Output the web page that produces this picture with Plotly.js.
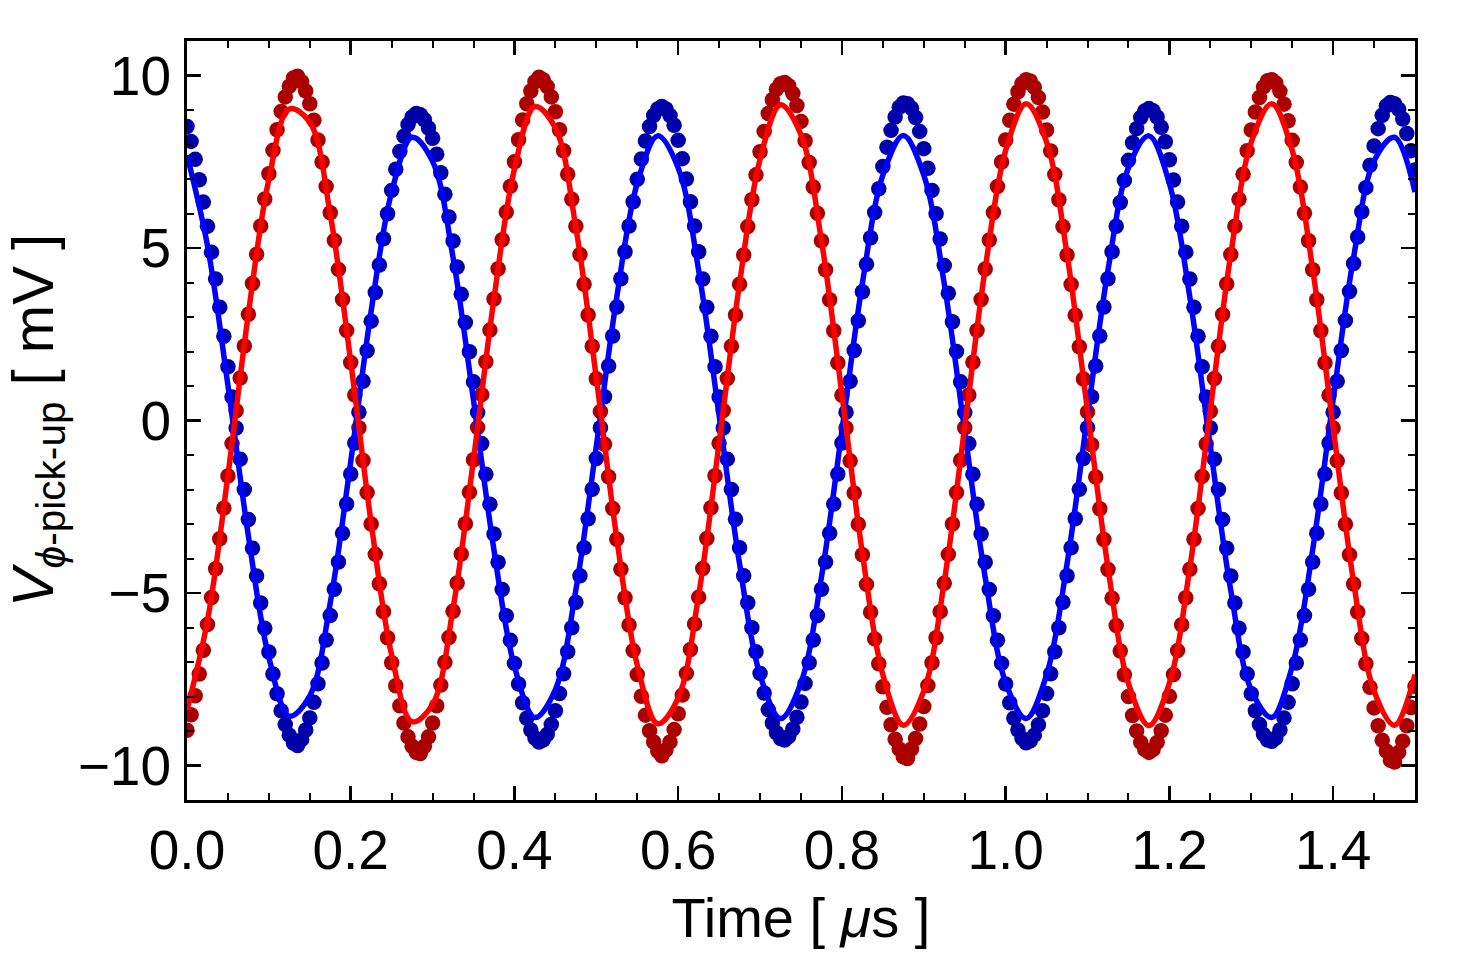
<!DOCTYPE html>
<html>
<head>
<meta charset="utf-8">
<script src="https://cdn.plot.ly/plotly-3.0.1.min.js"></script>
<style>html,body{margin:0;padding:0;background:#fff;}#chart{width:1459px;height:969px;}</style>
</head>
<body>
<div id="chart"></div>
<script>
// Sampled data (mV), one point every 0.005 µs from t = 0 to 1.5 µs
var sampleStart = 0;
var sampleStep = 0.005;
var redData = [
-8.98,-8.53,-7.98,-7.35,-6.66,-5.91,-5.13,-4.30,-3.43,-2.54,
-1.61,-0.67,0.28,1.23,2.16,3.08,3.97,4.82,5.64,6.42,
7.15,7.83,8.43,8.96,9.38,9.69,9.93,9.98,9.82,9.55,
9.18,8.70,8.13,7.49,6.78,6.02,5.22,4.38,3.51,2.61,
1.68,0.74,-0.21,-1.16,-2.09,-3.00,-3.88,-4.73,-5.54,-6.30,
-7.02,-7.69,-8.27,-8.77,-9.17,-9.44,-9.62,-9.65,-9.44,-9.17,
-8.77,-8.27,-7.67,-7.01,-6.29,-5.53,-4.71,-3.87,-2.99,-2.08,
-1.14,-0.20,0.75,1.70,2.62,3.52,4.40,5.24,6.04,6.79,
7.50,8.14,8.71,9.18,9.55,9.82,9.95,9.88,9.68,9.38,
8.95,8.43,7.82,7.14,6.41,5.63,4.81,3.95,3.06,2.15,
1.21,0.26,-0.69,-1.63,-2.55,-3.44,-4.31,-5.14,-5.93,-6.67,
-7.36,-7.99,-8.54,-8.99,-9.32,-9.58,-9.72,-9.55,-9.32,
-8.96,-8.50,-7.96,-7.33,-6.64,-5.90,-5.12,-4.29,-3.42,-2.53,
-1.60,-0.66,0.29,1.22,2.15,3.06,3.95,4.80,5.62,6.40,
7.12,7.79,8.38,8.90,9.30,9.60,9.76,9.80,9.70,9.48,
9.13,8.67,8.11,7.48,6.77,6.01,5.21,4.37,3.50,2.60,
1.67,0.73,-0.22,-1.17,-2.10,-3.01,-3.89,-4.75,-5.56,-6.33,
-7.05,-7.72,-8.31,-8.82,-9.24,-9.52,-9.75,-9.80,-9.52,-9.22,
-8.80,-8.29,-7.68,-7.02,-6.30,-5.54,-4.72,-3.88,-3.00,-2.09,
-1.15,-0.21,0.74,1.69,2.61,3.51,4.39,5.23,6.03,6.78,
7.49,8.13,8.70,9.17,9.53,9.77,9.88,9.84,9.66,9.36,
8.94,8.42,7.81,7.13,6.40,5.62,4.80,3.94,3.05,2.14,
1.20,0.25,-0.70,-1.64,-2.56,-3.45,-4.32,-5.15,-5.94,-6.68,
-7.37,-8.00,-8.55,-9.00,-9.33,-9.54,-9.62,-9.54,-9.33,
-8.99,-8.54,-7.99,-7.36,-6.67,-5.92,-5.14,-4.31,-3.44,-2.55,
-1.62,-0.68,0.27,1.22,2.15,3.07,3.96,4.81,5.63,6.41,
7.14,7.82,8.42,8.94,9.36,9.67,9.85,9.88,9.78,9.54,
9.17,8.69,8.12,7.48,6.77,6.01,5.21,4.37,3.50,2.60,
1.67,0.73,-0.22,-1.17,-2.10,-3.01,-3.89,-4.74,-5.55,-6.32,
-7.05,-7.73,-8.33,-8.85,-9.27,-9.58,-9.85,-9.90,-9.62,-9.30,
-8.85,-8.32,-7.70
];
var blueData = [
8.52,8.09,7.57,6.98,6.33,5.63,4.88,4.10,3.28,2.44,
1.56,0.68,-0.22,-1.12,-2.00,-2.87,-3.70,-4.51,-5.29,-6.02,
-6.71,-7.35,-7.92,-8.41,-8.81,-9.12,-9.35,-9.42,-9.25,-8.97,
-8.62,-8.17,-7.63,-7.03,-6.36,-5.65,-4.89,-4.10,-3.27,-2.42,
-1.55,-0.65,0.24,1.14,2.02,2.88,3.71,4.51,5.27,5.99,
6.67,7.28,7.80,8.24,8.58,8.80,8.90,8.86,8.72,8.48,
8.18,7.72,7.18,6.56,5.90,5.20,4.45,3.66,2.84,1.99,
1.12,0.23,-0.67,-1.56,-2.43,-3.29,-4.11,-4.90,-5.66,-6.37,
-7.04,-7.64,-8.18,-8.63,-8.97,-9.20,-9.32,-9.26,-9.10,-8.81,
-8.41,-7.91,-7.34,-6.70,-6.01,-5.27,-4.50,-3.69,-2.85,-1.99,
-1.10,-0.21,0.69,1.58,2.45,3.29,4.11,4.89,5.64,6.34,
6.99,7.58,8.10,8.52,8.84,9.03,9.10,9.03,8.84,
8.56,8.12,7.59,7.00,6.34,5.64,4.89,4.10,3.28,2.44,
1.56,0.68,-0.22,-1.12,-2.00,-2.86,-3.69,-4.50,-5.28,-6.01,
-6.70,-7.33,-7.90,-8.38,-8.77,-9.05,-9.22,-9.26,-9.16,-8.94,
-8.60,-8.16,-7.62,-7.02,-6.36,-5.65,-4.89,-4.10,-3.27,-2.42,
-1.55,-0.65,0.24,1.14,2.03,2.89,3.73,4.53,5.30,6.03,
6.72,7.36,7.92,8.41,8.80,9.08,9.20,9.18,9.05,8.78,
8.38,7.88,7.31,6.67,5.99,5.26,4.49,3.69,2.86,2.00,
1.12,0.23,-0.67,-1.56,-2.43,-3.29,-4.11,-4.90,-5.66,-6.37,
-7.04,-7.64,-8.18,-8.63,-8.97,-9.22,-9.34,-9.28,-9.12,-8.82,
-8.41,-7.91,-7.34,-6.70,-6.01,-5.27,-4.50,-3.69,-2.85,-1.99,
-1.10,-0.21,0.69,1.58,2.45,3.29,4.11,4.89,5.63,6.32,
6.96,7.54,8.05,8.46,8.78,8.97,9.04,8.98,8.80,
8.50,8.08,7.56,6.97,6.33,5.63,4.88,4.10,3.28,2.44,
1.56,0.68,-0.22,-1.12,-2.00,-2.87,-3.70,-4.51,-5.29,-6.02,
-6.71,-7.35,-7.92,-8.41,-8.81,-9.10,-9.26,-9.30,-9.20,-8.97,
-8.62,-8.17,-7.63,-7.03,-6.36,-5.65,-4.89,-4.10,-3.27,-2.42,
-1.55,-0.65,0.24,1.14,2.03,2.90,3.74,4.55,5.32,6.05,
6.75,7.40,7.96,8.46,8.85,9.12,9.22,9.18,9.02,8.74,
8.32,7.82,7.26
];
// Fitted curves (mV), read every 0.025 µs from t = 0 to 1.5 µs
var fitStart = 0;
var fitStep = 0.025;
var redFit = [
-8.39,-5.80,-1.59,3.10,6.99,9.03,8.65,5.97,1.70,-2.98,-6.80,-8.73,
-8.23,-5.44,-1.12,3.54,7.29,9.10,8.48,5.59,1.23,-3.42,-7.09,-8.79,
-8.04,-5.06,-0.65,3.98,7.57,9.15,8.28,5.21,0.76,-3.85,-7.37,-8.83,
-7.84,-4.67,-0.18,4.40,7.83,9.18,8.07,4.81,0.28,-4.27,-7.62,-8.84,
-7.61,-4.26,0.30,4.82,8.07,9.18,7.83,4.39,-0.19,-4.68,-7.84,-8.83,
-7.36
];
var blueFit = [
7.69,5.07,1.02,-3.35,-6.87,-8.57,-7.98,-5.28,-1.19,3.18,6.62,8.21,
7.51,4.72,0.58,-3.76,-7.13,-8.61,-7.80,-4.91,-0.74,3.58,6.88,8.25,
7.32,4.35,0.14,-4.16,-7.38,-8.64,-7.60,-4.54,-0.30,3.98,7.11,8.26,
7.11,3.96,-0.31,-4.55,-7.60,-8.64,-7.37,-4.15,0.15,4.36,7.33,8.25,
6.87,3.57,-0.76,-4.93,-7.81,-8.61,-7.13,-3.75,0.60,4.73,7.52,8.21,
6.62
];
var xTickStep = 0.2, yTickStep = 5;

var font = 'Liberation Sans, Arial, Helvetica, sans-serif';
var traces = [
  {type:'scatter', mode:'markers', x0:sampleStart, dx:sampleStep, y:blueData,
   marker:{color:'#0000aa', size:15.5, line:{width:0}}, showlegend:false, hoverinfo:'skip'},
  {type:'scatter', mode:'markers', x0:sampleStart, dx:sampleStep, y:redData,
   marker:{color:'#aa0000', size:15.5, line:{width:0}}, showlegend:false, hoverinfo:'skip'},
  {type:'scatter', mode:'lines', x0:fitStart, dx:fitStep, y:blueFit,
   line:{color:'#0000ff', width:5.5, shape:'spline', smoothing:1}, showlegend:false, hoverinfo:'skip'},
  {type:'scatter', mode:'lines', x0:fitStart, dx:fitStep, y:redFit,
   line:{color:'#ff0000', width:5.5, shape:'spline', smoothing:1}, showlegend:false, hoverinfo:'skip'}
];
var axisCommon = {
  showline:true, linecolor:'#000', linewidth:3, mirror:'ticks',
  ticks:'inside', tickcolor:'#000', tickwidth:2.5, ticklen:14,
  showgrid:false, zeroline:false,
  tickfont:{family:font, size:55, color:'#000'}
};
var layout = {
  width:1459, height:969,
  margin:{l:187, r:44, t:41, b:169, pad:0},
  paper_bgcolor:'#fff', plot_bgcolor:'#fff',
  showlegend:false,
  xaxis:Object.assign({}, axisCommon, {
    range:[0,1.5], tick0:0, dtick:xTickStep, tickformat:'.1f',
    ticklabelstandoff:0,
    minor:{dtick:0.05, ticks:'inside', ticklen:7, tickwidth:2, tickcolor:'#000', showgrid:false},
    title:{text:'Time [ <i>μ</i>s ]', font:{family:font, size:56, color:'#000'}, standoff:18}
  }),
  yaxis:Object.assign({}, axisCommon, {
    range:[-11,11], tick0:0, dtick:yTickStep,
    ticklabelstandoff:2,
    minor:{dtick:1, ticks:'inside', ticklen:7, tickwidth:2, tickcolor:'#000', showgrid:false},
    title:{text:'<i>V</i><sub><i>ϕ</i>-pick-up</sub> [ mV ]', font:{family:font, size:58, color:'#000'}, standoff:19}
  })
};
Plotly.newPlot('chart', traces, layout, {staticPlot:true, displayModeBar:false});
</script>
</body>
</html>
